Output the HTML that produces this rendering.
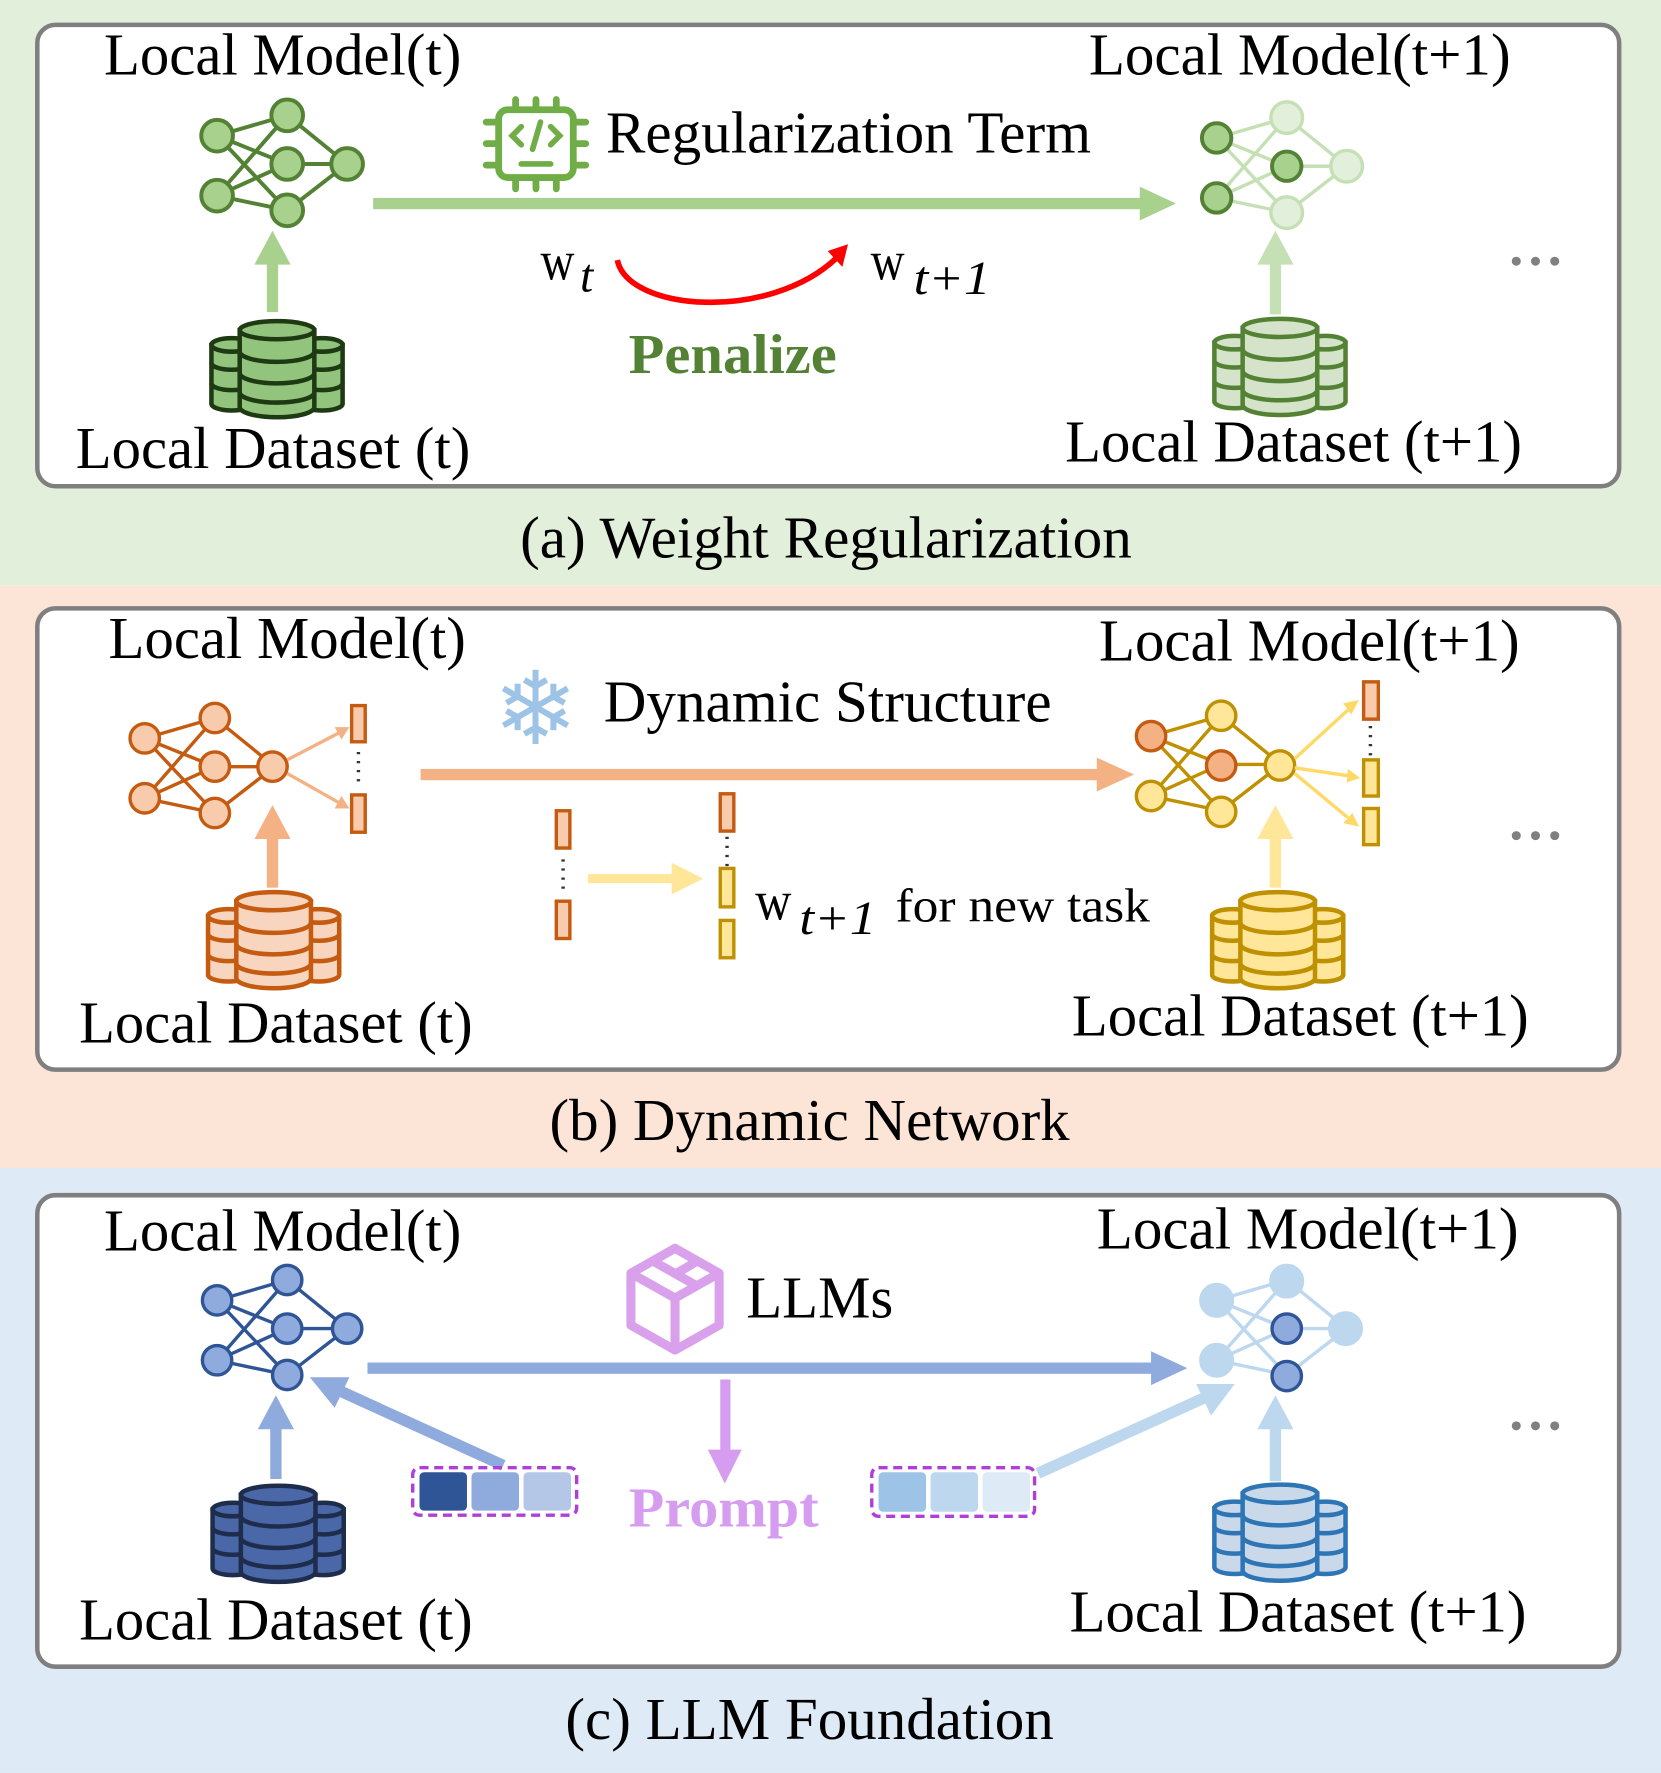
<!DOCTYPE html>
<html><head><meta charset="utf-8"><style>
html,body{margin:0;padding:0;background:#fff}
svg{display:block}
text{font-family:"Liberation Serif",serif;fill:#000}
</style></head><body>
<svg width="1661" height="1773" viewBox="0 0 1469 1568" xmlns="http://www.w3.org/2000/svg">
<defs>
<g id="db">
  <path d="M-58,22 v52 a18,6 0 0 0 36,0 v-52 z"/>
  <ellipse cx="-40" cy="22" rx="18" ry="6"/>
  <path d="M22,22 v52 a18,6 0 0 0 36,0 v-52 z"/>
  <ellipse cx="40" cy="22" rx="18" ry="6"/>
  <path fill="none" d="M-58,38 a18,6 0 0 0 36,0 M-58,56 a18,6 0 0 0 36,0 M22,38 a18,6 0 0 0 36,0 M22,56 a18,6 0 0 0 36,0"/>
  <path d="M-33,9 v68 a33,9 0 0 0 66,0 v-68 z"/>
  <ellipse cx="0" cy="9" rx="33" ry="8"/>
  <path fill="none" d="M-33,28 a33,9 0 0 0 66,0 M-33,47 a33,9 0 0 0 66,0 M-33,64 a33,9 0 0 0 66,0"/>
</g>
<g id="nn" fill="none">
  <path d="M0,0 L62,-18 M0,0 L62,25 M0,0 L62,66 M0,53 L62,-18 M0,53 L62,25 M0,53 L62,66 M62,-18 L115,25 M62,25 L115,25 M62,66 L115,25"/>
</g>
</defs>

<rect x="0" y="0" width="1469" height="518" fill="#e2efda"/>
<rect x="0" y="518" width="1469" height="515" fill="#fce4d6"/>
<rect x="0" y="1033" width="1469" height="535" fill="#deebf7"/>
<rect x="33" y="22" width="1399" height="408" rx="16" fill="#fff" stroke="#7f7f7f" stroke-width="4"/>
<rect x="33" y="538" width="1399" height="408" rx="16" fill="#fff" stroke="#7f7f7f" stroke-width="4"/>
<rect x="33" y="1057" width="1399" height="417" rx="16" fill="#fff" stroke="#7f7f7f" stroke-width="4"/>

<!-- PANEL A -->
<text x="92" y="66" font-size="52" textLength="316" lengthAdjust="spacingAndGlyphs">Local Model(t)</text>
<text x="963" y="66" font-size="52" textLength="373" lengthAdjust="spacingAndGlyphs">Local Model(t+1)</text>
<text x="67" y="414" font-size="52" textLength="349" lengthAdjust="spacingAndGlyphs">Local Dataset (t)</text>
<text x="942" y="408" font-size="52" textLength="404" lengthAdjust="spacingAndGlyphs">Local Dataset (t+1)</text>
<text x="460" y="493" font-size="52" textLength="541" lengthAdjust="spacingAndGlyphs">(a) Weight Regularization</text>

<g transform="translate(192,120)"><use href="#nn" stroke="#548235" stroke-width="3.5"/></g>
<g fill="#a9d18e" stroke="#548235" stroke-width="3.5">
<circle cx="192" cy="120" r="14"/><circle cx="192" cy="173" r="14"/><circle cx="254" cy="102" r="14"/><circle cx="254" cy="145" r="14"/><circle cx="254" cy="186" r="14"/><circle cx="307" cy="145" r="14"/></g>
<rect x="236" y="232" width="10" height="44" fill="#a9d18e"/><polygon points="225,234 241,204 257,234" fill="#a9d18e"/>
<g transform="translate(245,283)"><use href="#db" fill="#93c47d" stroke="#1e3a12" stroke-width="4"/></g>

<g stroke="#70ad47" stroke-width="6" fill="none" stroke-linecap="round">
<rect x="441" y="97" width="66" height="60" rx="8"/>
<path d="M456,88 v9 M474,88 v9 M492,88 v9 M456,157 v10 M474,157 v10 M492,157 v10 M430,108 h11 M430,127 h11 M430,146 h11 M507,108 h11 M507,127 h11 M507,146 h11"/>
<path d="M461,112 l-8,8 l8,8 M487,112 l8,8 l-8,8 M478,108 l-7,24 M461,145 h26" stroke-width="5"/>
</g>
<text x="536" y="135" font-size="52" textLength="429" lengthAdjust="spacingAndGlyphs">Regularization Term</text>
<rect x="330" y="175" width="680" height="10" fill="#a9d18e"/><polygon points="1008,165 1040,180 1008,195" fill="#a9d18e"/>

<text x="478" y="247" font-size="50" textLength="30" lengthAdjust="spacingAndGlyphs">w</text>
<text x="513" y="258" font-size="42" font-style="italic">t</text>
<path d="M546,230 C555,275 680,285 740,228" fill="none" stroke="#ff0000" stroke-width="5"/>
<polygon points="732,222 750,216 745,236" fill="#ff0000"/>
<text x="770" y="247" font-size="50" textLength="30" lengthAdjust="spacingAndGlyphs">w</text>
<text x="808" y="260" font-size="42" font-style="italic" textLength="68" lengthAdjust="spacingAndGlyphs">t+1</text>
<text x="556" y="330" font-size="50" font-weight="bold" style="fill:#548235" textLength="184" lengthAdjust="spacingAndGlyphs">Penalize</text>

<g transform="translate(1076,122)"><use href="#nn" stroke="#c5e0b4" stroke-width="3"/></g>
<g fill="#e2efda" stroke="#c5e0b4" stroke-width="3">
<circle cx="1138" cy="104" r="14"/><circle cx="1138" cy="188" r="14"/><circle cx="1191" cy="147" r="14"/></g>
<g fill="#a9d18e" stroke="#548235" stroke-width="3.5">
<circle cx="1076" cy="122" r="13"/><circle cx="1076" cy="175" r="13"/><circle cx="1138" cy="147" r="13"/></g>
<rect x="1123" y="232" width="10" height="46" fill="#c5e0b4"/><polygon points="1112,234 1128,204 1144,234" fill="#c5e0b4"/>
<g transform="translate(1132,281)"><use href="#db" fill="#d5e3cb" stroke="#548235" stroke-width="4"/></g>
<g fill="#808080"><circle cx="1341" cy="231" r="4"/><circle cx="1358" cy="231" r="4"/><circle cx="1375" cy="231" r="4"/></g>

<!-- PANEL B -->
<text x="96" y="582" font-size="52" textLength="316" lengthAdjust="spacingAndGlyphs">Local Model(t)</text>
<text x="972" y="584" font-size="52" textLength="372" lengthAdjust="spacingAndGlyphs">Local Model(t+1)</text>
<text x="70" y="922" font-size="52" textLength="348" lengthAdjust="spacingAndGlyphs">Local Dataset (t)</text>
<text x="948" y="916" font-size="52" textLength="404" lengthAdjust="spacingAndGlyphs">Local Dataset (t+1)</text>
<text x="486" y="1008" font-size="52" textLength="460" lengthAdjust="spacingAndGlyphs">(b) Dynamic Network</text>

<g transform="translate(128,653)"><use href="#nn" stroke="#c55a11" stroke-width="3"/></g>
<g fill="#f8cbad" stroke="#c55a11" stroke-width="3">
<circle cx="128" cy="653" r="13"/><circle cx="128" cy="706" r="13"/><circle cx="190" cy="635" r="13"/><circle cx="190" cy="678" r="13"/><circle cx="190" cy="719" r="13"/><circle cx="241" cy="678" r="13"/></g>
<g stroke="#f4b183" stroke-width="3" fill="#f4b183">
<line x1="254" y1="672" x2="300" y2="648"/><polygon points="309,643 296,643 302,654" stroke="none"/>
<line x1="254" y1="684" x2="300" y2="710"/><polygon points="309,715 302,704 296,715" stroke="none"/></g>
<g fill="#f8cbad" stroke="#c55a11" stroke-width="3"><rect x="311" y="624" width="12" height="32"/><rect x="311" y="703" width="12" height="33"/></g>
<path d="M317,665 v32" stroke="#333" stroke-width="3" stroke-dasharray="2,6"/>
<rect x="236" y="740" width="10" height="45" fill="#f4b183"/><polygon points="225,742 241,712 257,742" fill="#f4b183"/>
<g transform="translate(242,788)"><use href="#db" fill="#f8d5bf" stroke="#c55a11" stroke-width="4"/></g>

<text x="436" y="658" font-size="90" style="font-family:'DejaVu Sans',sans-serif;fill:#9dc3e6">❄</text>
<text x="534" y="638" font-size="52" textLength="396" lengthAdjust="spacingAndGlyphs">Dynamic Structure</text>
<rect x="372" y="680" width="600" height="10" fill="#f4b183"/><polygon points="970,670 1003,685 970,700" fill="#f4b183"/>

<g fill="#f8cbad" stroke="#c55a11" stroke-width="3"><rect x="492" y="717" width="12" height="33"/><rect x="492" y="797" width="12" height="33"/><rect x="637" y="702" width="12" height="33"/></g>
<path d="M498,760 v32 M643,740 v26" stroke="#333" stroke-width="3" stroke-dasharray="2,6"/>
<g fill="#ffe699" stroke="#bf9000" stroke-width="3"><rect x="637" y="768" width="12" height="34"/><rect x="637" y="814" width="12" height="33"/></g>
<rect x="520" y="773" width="76" height="8" fill="#ffe699"/><polygon points="594,763 622,777 594,791" fill="#ffe699"/>
<text x="668" y="813" font-size="50" textLength="32" lengthAdjust="spacingAndGlyphs">w</text>
<text x="707" y="826" font-size="42" font-style="italic" textLength="68" lengthAdjust="spacingAndGlyphs">t+1</text>
<text x="792" y="815" font-size="42" textLength="225" lengthAdjust="spacingAndGlyphs">for new task</text>

<g transform="translate(1018,651)"><use href="#nn" stroke="#bf9000" stroke-width="3"/></g>
<g fill="#ffe699" stroke="#bf9000" stroke-width="3">
<circle cx="1018" cy="704" r="13"/><circle cx="1080" cy="633" r="13"/><circle cx="1080" cy="718" r="13"/><circle cx="1132" cy="677" r="13"/></g>
<g fill="#f4b183" stroke="#c55a11" stroke-width="3"><circle cx="1018" cy="651" r="13"/><circle cx="1080" cy="677" r="13"/></g>
<g stroke="#ffd966" stroke-width="3" fill="#ffd966">
<line x1="1145" y1="671" x2="1192" y2="628"/><polygon points="1202,619 1188,622 1195,632" stroke="none"/>
<line x1="1145" y1="679" x2="1192" y2="686"/><polygon points="1203,688 1192,680 1191,692" stroke="none"/>
<line x1="1145" y1="684" x2="1192" y2="723"/><polygon points="1202,731 1196,719 1188,728" stroke="none"/></g>
<rect x="1206" y="603" width="13" height="33" fill="#f8cbad" stroke="#c55a11" stroke-width="3"/>
<g fill="#ffe699" stroke="#bf9000" stroke-width="3"><rect x="1206" y="672" width="13" height="32"/><rect x="1206" y="715" width="13" height="32"/></g>
<path d="M1212,642 v26" stroke="#333" stroke-width="3" stroke-dasharray="2,6"/>
<rect x="1123" y="740" width="10" height="45" fill="#ffe699"/><polygon points="1112,742 1128,712 1144,742" fill="#ffe699"/>
<g transform="translate(1130,788)"><use href="#db" fill="#ffe699" stroke="#bf9000" stroke-width="4"/></g>
<g fill="#808080"><circle cx="1341" cy="739" r="4"/><circle cx="1358" cy="739" r="4"/><circle cx="1375" cy="739" r="4"/></g>

<!-- PANEL C -->
<text x="92" y="1106" font-size="52" textLength="316" lengthAdjust="spacingAndGlyphs">Local Model(t)</text>
<text x="970" y="1104" font-size="52" textLength="373" lengthAdjust="spacingAndGlyphs">Local Model(t+1)</text>
<text x="70" y="1450" font-size="52" textLength="348" lengthAdjust="spacingAndGlyphs">Local Dataset (t)</text>
<text x="946" y="1443" font-size="52" textLength="404" lengthAdjust="spacingAndGlyphs">Local Dataset (t+1)</text>
<text x="500" y="1538" font-size="52" textLength="432" lengthAdjust="spacingAndGlyphs">(c) LLM Foundation</text>

<g transform="translate(192,1150)"><use href="#nn" stroke="#2f5597" stroke-width="3"/></g>
<g fill="#8faadc" stroke="#2f5597" stroke-width="3">
<circle cx="192" cy="1150" r="13"/><circle cx="192" cy="1203" r="13"/><circle cx="254" cy="1132" r="13"/><circle cx="254" cy="1175" r="13"/><circle cx="254" cy="1216" r="13"/><circle cx="307" cy="1175" r="13"/></g>
<rect x="239" y="1262" width="10" height="46" fill="#8faadc"/><polygon points="228,1264 244,1234 260,1264" fill="#8faadc"/>
<line x1="445" y1="1296" x2="296" y2="1228" stroke="#8faadc" stroke-width="10"/>
<polygon points="274,1218 309,1218 296,1245" fill="#8faadc"/>
<g transform="translate(246,1313)"><use href="#db" fill="#4a67a8" stroke="#1f2d4d" stroke-width="4"/></g>
<rect x="365" y="1298" width="145" height="42" rx="6" fill="none" stroke="#b03fd8" stroke-width="3" stroke-dasharray="8,5"/>
<rect x="371" y="1302" width="42" height="34" rx="4" fill="#2f5597"/><rect x="417" y="1302" width="42" height="34" rx="4" fill="#8faadc"/><rect x="463" y="1302" width="42" height="34" rx="4" fill="#b4c7e7"/>

<g fill="none" stroke="#d9a0ec" stroke-width="8" stroke-linejoin="round">
<path d="M597,1104 L636,1126 L636,1172 L597,1194 L558,1172 L558,1126 Z"/>
<path d="M558,1126 L597,1148 L636,1126 M597,1148 L597,1194 M577,1115 L616,1137 M617,1115 L597,1127"/>
</g>
<text x="660" y="1165" font-size="52" textLength="130" lengthAdjust="spacingAndGlyphs">LLMs</text>
<rect x="325" y="1205" width="695" height="10" fill="#8faadc"/><polygon points="1018,1195 1050,1210 1018,1225" fill="#8faadc"/>
<rect x="637" y="1220" width="9" height="64" fill="#d59cf0"/><polygon points="626,1282 641,1312 656,1282" fill="#d59cf0"/>
<text x="556" y="1350" font-size="50" font-weight="bold" style="fill:#d69cf0" textLength="168" lengthAdjust="spacingAndGlyphs">Prompt</text>

<rect x="771" y="1298" width="144" height="43" rx="6" fill="none" stroke="#b03fd8" stroke-width="3" stroke-dasharray="8,5"/>
<rect x="777" y="1302" width="42" height="35" rx="4" fill="#9dc3e6"/><rect x="823" y="1302" width="42" height="35" rx="4" fill="#bdd7ee"/><rect x="869" y="1302" width="42" height="35" rx="4" fill="#deebf7"/>
<line x1="918" y1="1303" x2="1070" y2="1234" stroke="#bdd7ee" stroke-width="10"/>
<polygon points="1092,1224 1058,1224 1071,1252" fill="#bdd7ee"/>

<g transform="translate(1076,1150)"><use href="#nn" stroke="#bdd7ee" stroke-width="3"/></g>
<g fill="#bdd7ee" stroke="#bdd7ee" stroke-width="3">
<circle cx="1076" cy="1150" r="14"/><circle cx="1076" cy="1203" r="14"/><circle cx="1138" cy="1133" r="14"/><circle cx="1190" cy="1175" r="14"/></g>
<g fill="#8faadc" stroke="#2f5597" stroke-width="3"><circle cx="1138" cy="1175" r="13"/><circle cx="1138" cy="1217" r="13"/></g>
<rect x="1123" y="1262" width="10" height="48" fill="#bdd7ee"/><polygon points="1112,1264 1128,1234 1144,1264" fill="#bdd7ee"/>
<g transform="translate(1132,1312)"><use href="#db" fill="#c9d9ea" stroke="#2e75b6" stroke-width="4"/></g>
<g fill="#808080"><circle cx="1341" cy="1261" r="4"/><circle cx="1358" cy="1261" r="4"/><circle cx="1375" cy="1261" r="4"/></g>
</svg>
</body></html>
